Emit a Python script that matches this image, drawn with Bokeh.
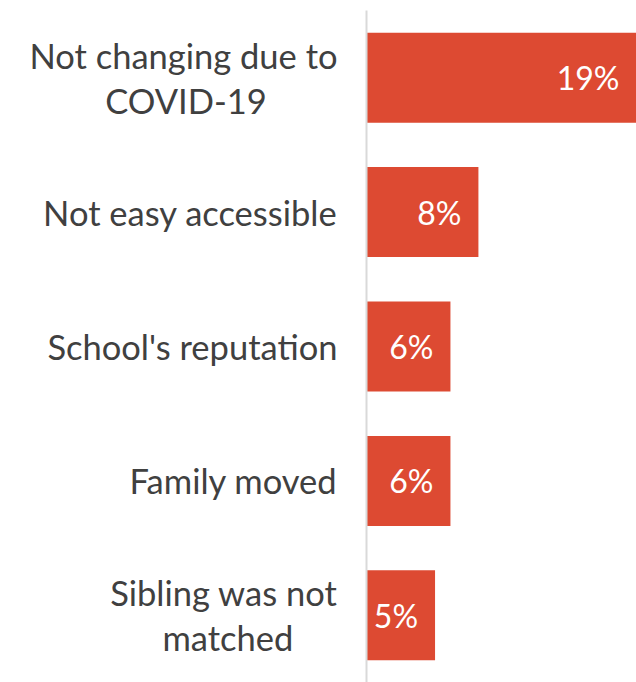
from bokeh.plotting import figure
from bokeh.models import ColumnDataSource, FactorRange, Range1d
from bokeh.core.properties import value
from bokeh.embed import file_html
from bokeh.resources import INLINE

NB = "\u00a0"
categories = ["Not changing due to\nCOVID-19" + NB * 8, "Not easy accessible", "School's reputation",
              "Family moved", "Sibling was not\nmatched" + NB * 5]
values = [19.3, 8.0, 6.0, 6.0, 4.9]
value_labels = ["19%", "8%", "6%", "6%", "5%"]

FONT = "Lato"
BAR = "#DD4A32"

src = ColumnDataSource(dict(cat=categories, val=values, lab=value_labels))

p = figure(width=636, height=682, output_backend="svg", toolbar_location=None,
           y_range=FactorRange(factors=list(reversed(categories))),
           x_range=Range1d(0, 19.3),
           min_border_left=366, min_border_right=0, min_border_top=10, min_border_bottom=0)

p.hbar(y="cat", right="val", left=0, height=0.67, source=src, color=BAR, line_color=None)
p.text(x="val", y="cat", text="lab", source=src, x_offset=-17, text_align="right",
       text_baseline="middle", text_color="white", text_font=value(FONT),
       text_font_size="32px")

p.xaxis.visible = False
p.xgrid.visible = False
p.ygrid.visible = False
p.outline_line_color = None
ax = p.yaxis[0]
ax.axis_line_color = "#D9D9D9"
ax.axis_line_width = 2
ax.major_tick_line_color = None
ax.minor_tick_line_color = None
ax.major_label_standoff = 23
ax.major_label_text_font = FONT
ax.major_label_text_font_size = "34.5px"
ax.major_label_text_color = "#404040"
ax.major_label_text_line_height = 1.1
ax.major_label_text_align = "right"

open("out.html", "w").write(file_html(p, INLINE))
